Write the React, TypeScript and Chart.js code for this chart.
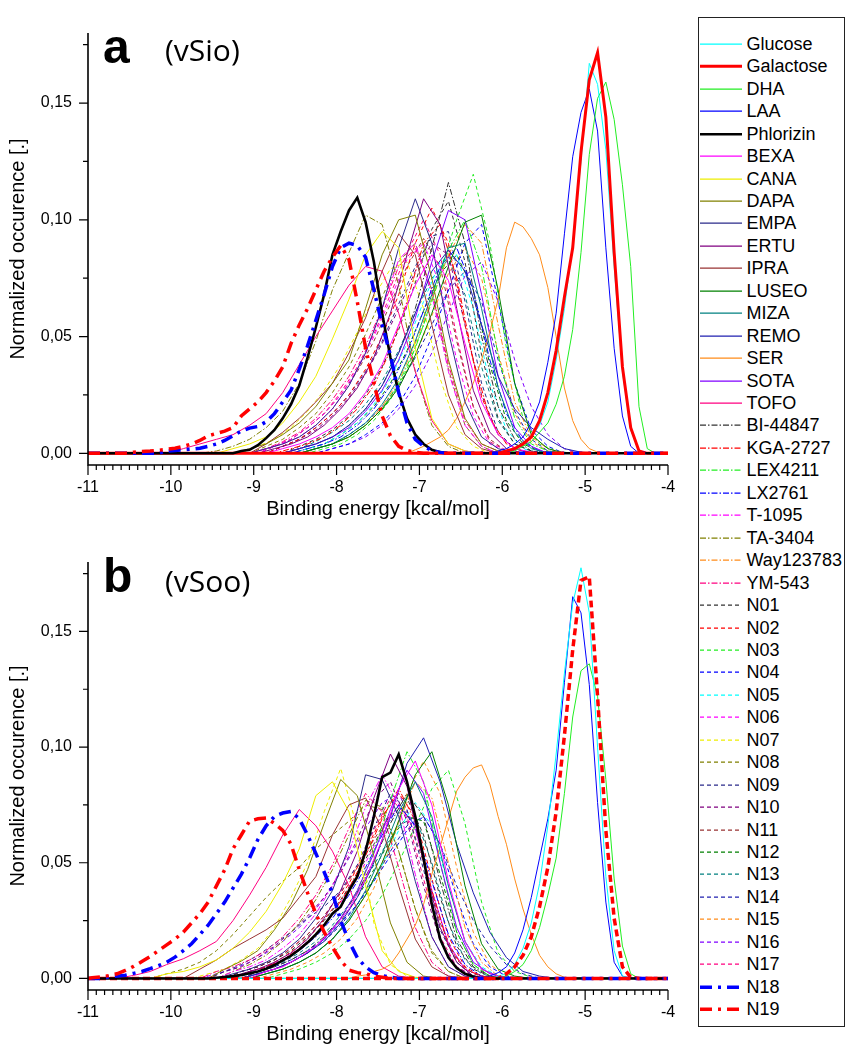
import React, { useEffect, useRef } from "react";
import { Chart, registerables } from "chart.js";

Chart.register(...registerables);

const FONT = "'Liberation Sans', Arial, Helvetica, sans-serif";

type Curve = { x0: number; dx: number; y: number[] };

// ---------- axis data ----------
const X_MIN = -11;
const X_MAX = -4;
const Y_MIN = -0.005;
const Y_MAX = 0.18;
const X_TICKS = [-11, -10, -9, -8, -7, -6, -5, -4];
const Y_TICKS = [0, 0.05, 0.1, 0.15];

// ---------- series names / colours ----------
const NAMES = [
  "Glucose", "Galactose", "DHA", "LAA", "Phlorizin", "BEXA", "CANA", "DAPA", "EMPA", "ERTU",
  "IPRA", "LUSEO", "MIZA", "REMO", "SER", "SOTA", "TOFO", "BI-44847", "KGA-2727", "LEX4211",
  "LX2761", "T-1095", "TA-3404", "Way123783", "YM-543", "N01", "N02", "N03", "N04", "N05",
  "N06", "N07", "N08", "N09", "N10", "N11", "N12", "N13", "N14", "N15", "N16", "N17", "N18", "N19",
];
const COLORS = [
  "#00FFFF", "#FF0000", "#22EE22", "#0000FF", "#000000", "#FF00FF", "#EEEE00", "#808000", "#2A2A8A", "#800080",
  "#993333", "#008000", "#008080", "#2020B0", "#FF8C1A", "#8000FF", "#FF0080", "#333333", "#FF0000", "#22EE22",
  "#0000FF", "#FF00FF", "#808000", "#FF8C1A", "#FF0080", "#333333", "#FF0000", "#22EE22", "#0000FF", "#00FFFF",
  "#FF00FF", "#EEEE00", "#808000", "#2A2A8A", "#800080", "#993333", "#008000", "#008080", "#2020B0", "#FF8C1A",
  "#8000FF", "#FF0080", "#0000FF", "#FF0000",
];
const STYLES = [
  "solid", "thick", "solid", "solid", "phl", "solid", "solid", "solid", "solid", "solid",
  "solid", "solid", "solid", "solid", "solid", "solid", "solid", "dd", "dd", "dd",
  "dd", "dd", "dd", "dd", "dd", "dash", "dash", "dash", "dash", "dash",
  "dash", "dash", "dash", "dash", "dash", "dash", "dash", "dash", "dash", "dash",
  "dash", "dash", "big", "big",
];
const STYLE_DEFS: Record<string, { w: number; dash: number[] }> = {
  solid: { w: 1, dash: [] },
  thick: { w: 3, dash: [] },
  phl: { w: 2.6, dash: [] },
  dd: { w: 1, dash: [6, 2, 1.5, 2] },
  dash: { w: 1, dash: [4, 3] },
  big: { w: 3.5, dash: [12, 6, 3, 6] },
  thickdash: { w: 3.5, dash: [7, 4] },
};

// ---------- panel a (vSio) ----------
const A_GLUCOSE: Curve = { x0: -5.85, dx: 0.1, y: [0.002, 0.004, 0.007, 0.012, 0.022, 0.04, 0.062, 0.09, 0.125, 0.167, 0.158, 0.13, 0.08, 0.035, 0.01, 0.001] };
const A_GALACTOSE: Curve = { x0: -5.95, dx: 0.1, y: [0.001, 0.002, 0.004, 0.007, 0.014, 0.026, 0.044, 0.067, 0.088, 0.129, 0.16, 0.1716, 0.144, 0.086, 0.037, 0.011, 0.001] };
const A_DHA: Curve = { x0: -5.85, dx: 0.1, y: [0.001, 0.003, 0.005, 0.009, 0.013, 0.021, 0.033, 0.053, 0.086, 0.128, 0.152, 0.159, 0.143, 0.115, 0.08, 0.02, 0.002] };
const A_LAA: Curve = { x0: -6.05, dx: 0.1, y: [0.001, 0.002, 0.004, 0.007, 0.013, 0.022, 0.039, 0.06, 0.094, 0.127, 0.146, 0.156, 0.138, 0.088, 0.045, 0.016, 0.003] };
const A_PHLORIZIN: Curve = { x0: -9.15, dx: 0.1, y: [0.001, 0.0015, 0.0035, 0.0065, 0.01, 0.015, 0.021, 0.029, 0.041, 0.054, 0.068, 0.085, 0.095, 0.104, 0.1095, 0.099, 0.082, 0.06, 0.041, 0.026, 0.015, 0.008, 0.004, 0.0015, 0.0005] };
const A_BEXA: Curve = { x0: -8.65, dx: 0.2, y: [0.002, 0.004, 0.007, 0.011, 0.017, 0.026, 0.038, 0.055, 0.072, 0.085, 0.074, 0.047, 0.022, 0.008, 0.002, 0.0005] };
const A_CANA: Curve = { x0: -9.25, dx: 0.2, y: [0.002, 0.004, 0.007, 0.013, 0.022, 0.033, 0.049, 0.066, 0.085, 0.095, 0.088, 0.045, 0.015, 0.004, 0.001] };
const A_DAPA: Curve = { x0: -9.05, dx: 0.2, y: [0.002, 0.004, 0.008, 0.013, 0.02, 0.03, 0.04, 0.062, 0.085, 0.1, 0.102, 0.075, 0.04, 0.015, 0.004, 0.001] };
const A_EMPA: Curve = { x0: -8.85, dx: 0.2, y: [0.002, 0.004, 0.007, 0.012, 0.019, 0.029, 0.043, 0.062, 0.088, 0.109, 0.09, 0.052, 0.022, 0.007, 0.002] };
const A_ERTU: Curve = { x0: -8.75, dx: 0.2, y: [0.002, 0.004, 0.007, 0.012, 0.019, 0.028, 0.041, 0.06, 0.085, 0.109, 0.098, 0.062, 0.027, 0.009, 0.002] };
const A_IPRA: Curve = { x0: -8.85, dx: 0.2, y: [0.004, 0.009, 0.015, 0.022, 0.03, 0.043, 0.058, 0.078, 0.094, 0.085, 0.055, 0.025, 0.008, 0.002] };
const A_LUSEO: Curve = { x0: -8.25, dx: 0.2, y: [0.002, 0.004, 0.007, 0.012, 0.019, 0.028, 0.042, 0.06, 0.08, 0.099, 0.102, 0.07, 0.03, 0.008, 0.002] };
const A_MIZA: Curve = { x0: -8.25, dx: 0.2, y: [0.002, 0.004, 0.008, 0.013, 0.021, 0.032, 0.048, 0.068, 0.088, 0.09, 0.062, 0.028, 0.009, 0.002] };
const A_REMO: Curve = { x0: -8.45, dx: 0.2, y: [0.002, 0.004, 0.007, 0.012, 0.019, 0.029, 0.043, 0.06, 0.078, 0.087, 0.078, 0.055, 0.033, 0.019, 0.011, 0.006, 0.002, 0.0005] };
const A_SER: Curve = { x0: -7.05, dx: 0.1, y: [0.0015, 0.003, 0.005, 0.007, 0.01, 0.015, 0.022, 0.03, 0.04, 0.052, 0.066, 0.088, 0.099, 0.097, 0.092, 0.085, 0.071, 0.05, 0.028, 0.014, 0.006, 0.002, 0.0005] };
const A_SOTA: Curve = { x0: -8.45, dx: 0.2, y: [0.002, 0.004, 0.007, 0.011, 0.018, 0.027, 0.04, 0.058, 0.082, 0.104, 0.1, 0.068, 0.033, 0.011, 0.003] };
const A_TOFO: Curve = { x0: -9.85, dx: 0.2, y: [0.002, 0.004, 0.006, 0.008, 0.012, 0.017, 0.026, 0.038, 0.05, 0.061, 0.072, 0.08, 0.078, 0.06, 0.035, 0.014, 0.004, 0.001] };
const A_BI44847: Curve = { x0: -8.45, dx: 0.2, y: [0.002, 0.004, 0.007, 0.012, 0.019, 0.029, 0.043, 0.062, 0.088, 0.116, 0.09, 0.05, 0.02, 0.006, 0.001] };
const A_KGA2727: Curve = { x0: -8.55, dx: 0.2, y: [0.002, 0.004, 0.007, 0.012, 0.019, 0.029, 0.044, 0.065, 0.09, 0.098, 0.075, 0.04, 0.015, 0.004, 0.001] };
const A_LEX4211: Curve = { x0: -8.25, dx: 0.2, y: [0.002, 0.004, 0.007, 0.012, 0.019, 0.03, 0.045, 0.065, 0.087, 0.1, 0.08, 0.042, 0.015, 0.004, 0.001] };
const A_LX2761: Curve = { x0: -8.35, dx: 0.2, y: [0.002, 0.004, 0.007, 0.012, 0.019, 0.029, 0.043, 0.061, 0.08, 0.088, 0.07, 0.04, 0.017, 0.005, 0.001] };
const A_T1095: Curve = { x0: -8.85, dx: 0.2, y: [0.002, 0.004, 0.007, 0.012, 0.019, 0.029, 0.043, 0.062, 0.083, 0.09, 0.068, 0.035, 0.012, 0.003] };
const A_TA3404: Curve = { x0: -9.45, dx: 0.2, y: [0.001, 0.003, 0.006, 0.011, 0.018, 0.03, 0.048, 0.07, 0.086, 0.102, 0.098, 0.072, 0.035, 0.012, 0.003] };
const A_WAY123783: Curve = { x0: -8.25, dx: 0.2, y: [0.002, 0.004, 0.007, 0.012, 0.02, 0.031, 0.047, 0.066, 0.085, 0.098, 0.09, 0.055, 0.022, 0.007, 0.002] };
const A_YM543: Curve = { x0: -8.85, dx: 0.2, y: [0.002, 0.005, 0.009, 0.015, 0.023, 0.033, 0.046, 0.062, 0.08, 0.088, 0.07, 0.038, 0.014, 0.004, 0.001] };
const A_N01: Curve = { x0: -8.45, dx: 0.2, y: [0.003, 0.006, 0.01, 0.016, 0.025, 0.037, 0.053, 0.073, 0.096, 0.108, 0.082, 0.042, 0.015, 0.004, 0.001] };
const A_N02: Curve = { x0: -8.65, dx: 0.2, y: [0.003, 0.006, 0.011, 0.017, 0.025, 0.036, 0.05, 0.068, 0.09, 0.105, 0.09, 0.055, 0.024, 0.008, 0.002] };
const A_N03: Curve = { x0: -8.15, dx: 0.2, y: [0.002, 0.004, 0.008, 0.014, 0.023, 0.036, 0.055, 0.078, 0.1, 0.1195, 0.09, 0.045, 0.015, 0.004, 0.001] };
const A_N04: Curve = { x0: -8.05, dx: 0.2, y: [0.002, 0.004, 0.008, 0.013, 0.021, 0.033, 0.05, 0.07, 0.09, 0.098, 0.065, 0.03, 0.01, 0.003] };
const A_N05: Curve = { x0: -8.35, dx: 0.2, y: [0.002, 0.004, 0.008, 0.013, 0.021, 0.032, 0.047, 0.065, 0.082, 0.085, 0.062, 0.03, 0.01, 0.002] };
const A_N06: Curve = { x0: -8.75, dx: 0.2, y: [0.003, 0.006, 0.011, 0.017, 0.025, 0.036, 0.05, 0.066, 0.083, 0.09, 0.072, 0.04, 0.016, 0.004, 0.001] };
const A_N07: Curve = { x0: -8.95, dx: 0.2, y: [0.003, 0.006, 0.011, 0.018, 0.027, 0.038, 0.052, 0.067, 0.079, 0.082, 0.062, 0.032, 0.011, 0.003] };
const A_N08: Curve = { x0: -8.85, dx: 0.2, y: [0.003, 0.006, 0.011, 0.017, 0.026, 0.037, 0.051, 0.067, 0.082, 0.09, 0.07, 0.036, 0.012, 0.003] };
const A_N09: Curve = { x0: -8.65, dx: 0.2, y: [0.003, 0.006, 0.011, 0.017, 0.025, 0.035, 0.048, 0.064, 0.08, 0.093, 0.095, 0.065, 0.03, 0.009, 0.002] };
const A_N10: Curve = { x0: -8.65, dx: 0.2, y: [0.003, 0.006, 0.01, 0.016, 0.024, 0.034, 0.047, 0.062, 0.078, 0.09, 0.085, 0.055, 0.025, 0.008, 0.002] };
const A_N11: Curve = { x0: -8.75, dx: 0.2, y: [0.003, 0.006, 0.011, 0.017, 0.025, 0.035, 0.048, 0.064, 0.08, 0.092, 0.08, 0.048, 0.02, 0.006, 0.001] };
const A_N12: Curve = { x0: -8.35, dx: 0.2, y: [0.002, 0.004, 0.008, 0.013, 0.02, 0.03, 0.044, 0.061, 0.077, 0.085, 0.07, 0.038, 0.014, 0.004, 0.001] };
const A_N13: Curve = { x0: -8.45, dx: 0.2, y: [0.002, 0.005, 0.009, 0.014, 0.021, 0.031, 0.044, 0.06, 0.075, 0.083, 0.068, 0.037, 0.014, 0.004, 0.001] };
const A_N14: Curve = { x0: -8.25, dx: 0.2, y: [0.002, 0.004, 0.008, 0.013, 0.02, 0.029, 0.041, 0.055, 0.07, 0.078, 0.065, 0.04, 0.018, 0.006, 0.001] };
const A_N15: Curve = { x0: -8.25, dx: 0.2, y: [0.002, 0.004, 0.007, 0.012, 0.019, 0.029, 0.042, 0.059, 0.077, 0.088, 0.075, 0.043, 0.017, 0.005, 0.001] };
const A_N16: Curve = { x0: -8.05, dx: 0.2, y: [0.002, 0.004, 0.007, 0.012, 0.019, 0.029, 0.043, 0.06, 0.076, 0.082, 0.065, 0.04, 0.02, 0.008, 0.002] };
const A_N17: Curve = { x0: -8.75, dx: 0.2, y: [0.003, 0.006, 0.011, 0.017, 0.026, 0.037, 0.051, 0.068, 0.086, 0.1, 0.085, 0.05, 0.02, 0.005, 0.001] };
const A_N18: Curve = { x0: -10.05, dx: 0.1, y: [0.001, 0.0012, 0.0015, 0.0018, 0.0022, 0.003, 0.004, 0.0055, 0.0075, 0.0095, 0.0108, 0.0115, 0.0135, 0.017, 0.022, 0.027, 0.036, 0.046, 0.057, 0.068, 0.08, 0.088, 0.09, 0.089, 0.084, 0.07, 0.055, 0.042, 0.026, 0.013, 0.006, 0.003, 0.0012, 0.0004] };
const A_N19: Curve = { x0: -10.45, dx: 0.1, y: [0.0005, 0.0008, 0.001, 0.0013, 0.0017, 0.0022, 0.003, 0.004, 0.0055, 0.0075, 0.0085, 0.0095, 0.011, 0.016, 0.019, 0.022, 0.026, 0.031, 0.037, 0.047, 0.055, 0.062, 0.07, 0.078, 0.084, 0.089, 0.083, 0.065, 0.045, 0.03, 0.016, 0.0075, 0.003, 0.0012, 0.0004] };

// ---------- panel b (vSoo) ----------
const B_GLUCOSE: Curve = { x0: -6.05, dx: 0.1, y: [0.001, 0.002, 0.006, 0.013, 0.024, 0.041, 0.066, 0.097, 0.132, 0.162, 0.1775, 0.158, 0.1, 0.044, 0.012, 0.001] };
const B_GALACTOSE: Curve = { x0: -5.95, dx: 0.1, y: [0.002, 0.005, 0.01, 0.018, 0.031, 0.048, 0.072, 0.105, 0.142, 0.172, 0.1736, 0.122, 0.064, 0.026, 0.005, 0.0005] };
const B_DHA: Curve = { x0: -5.95, dx: 0.1, y: [0.001, 0.003, 0.006, 0.012, 0.022, 0.036, 0.052, 0.08, 0.113, 0.133, 0.136, 0.122, 0.086, 0.043, 0.014, 0.002] };
const B_LAA: Curve = { x0: -6.15, dx: 0.1, y: [0.001, 0.0025, 0.005, 0.011, 0.021, 0.035, 0.052, 0.069, 0.09, 0.128, 0.165, 0.158, 0.127, 0.076, 0.033, 0.007, 0.001] };
const B_PHLORIZIN: Curve = { x0: -9.45, dx: 0.1, y: [0.0003, 0.0006, 0.001, 0.0015, 0.0022, 0.003, 0.0042, 0.0058, 0.0078, 0.0098, 0.0125, 0.0155, 0.019, 0.023, 0.028, 0.031, 0.038, 0.044, 0.055, 0.07, 0.087, 0.089, 0.0968, 0.085, 0.07, 0.052, 0.032, 0.017, 0.009, 0.0045, 0.002, 0.0008] };
const B_BEXA: Curve = { x0: -8.85, dx: 0.2, y: [0.003, 0.005, 0.009, 0.014, 0.021, 0.03, 0.043, 0.06, 0.082, 0.094, 0.075, 0.042, 0.016, 0.004, 0.001] };
const B_CANA: Curve = { x0: -10.05, dx: 0.2, y: [0.002, 0.003, 0.005, 0.008, 0.013, 0.02, 0.029, 0.041, 0.056, 0.079, 0.085, 0.072, 0.04, 0.012, 0.003, 0.0005] };
const B_DAPA: Curve = { x0: -9.35, dx: 0.2, y: [0.004, 0.0075, 0.012, 0.021, 0.032, 0.047, 0.067, 0.086, 0.079, 0.053, 0.024, 0.007, 0.001] };
const B_EMPA: Curve = { x0: -9.25, dx: 0.2, y: [0.002, 0.004, 0.007, 0.011, 0.017, 0.026, 0.038, 0.057, 0.088, 0.086, 0.07, 0.042, 0.018, 0.005, 0.001] };
const B_ERTU: Curve = { x0: -9.15, dx: 0.2, y: [0.002, 0.004, 0.007, 0.011, 0.017, 0.026, 0.038, 0.055, 0.078, 0.097, 0.083, 0.05, 0.022, 0.007, 0.001] };
const B_IPRA: Curve = { x0: -9.65, dx: 0.2, y: [0.004, 0.008, 0.013, 0.017, 0.021, 0.026, 0.035, 0.044, 0.062, 0.075, 0.078, 0.065, 0.04, 0.017, 0.005, 0.001] };
const B_LUSEO: Curve = { x0: -8.85, dx: 0.2, y: [0.002, 0.004, 0.007, 0.011, 0.017, 0.025, 0.036, 0.05, 0.068, 0.088, 0.098, 0.075, 0.04, 0.015, 0.004, 0.001] };
const B_MIZA: Curve = { x0: -8.85, dx: 0.2, y: [0.002, 0.004, 0.007, 0.011, 0.017, 0.026, 0.038, 0.054, 0.072, 0.085, 0.07, 0.04, 0.016, 0.004, 0.001] };
const B_REMO: Curve = { x0: -8.95, dx: 0.2, y: [0.002, 0.004, 0.007, 0.011, 0.016, 0.024, 0.035, 0.05, 0.07, 0.093, 0.104, 0.085, 0.058, 0.037, 0.02, 0.009, 0.003, 0.001] };
const B_SER: Curve = { x0: -7.75, dx: 0.1, y: [0.001, 0.0015, 0.003, 0.004, 0.006, 0.011, 0.017, 0.023, 0.032, 0.045, 0.057, 0.069, 0.081, 0.087, 0.091, 0.0923, 0.084, 0.07, 0.058, 0.043, 0.03, 0.019, 0.01, 0.005, 0.002, 0.0005] };
const B_SOTA: Curve = { x0: -8.95, dx: 0.2, y: [0.002, 0.004, 0.007, 0.011, 0.017, 0.026, 0.038, 0.054, 0.073, 0.09, 0.08, 0.05, 0.022, 0.007, 0.002] };
const B_TOFO: Curve = { x0: -10.45, dx: 0.2, y: [0.0013, 0.003, 0.006, 0.0085, 0.012, 0.016, 0.025, 0.036, 0.048, 0.062, 0.073, 0.066, 0.055, 0.04, 0.018, 0.005, 0.001] };
const B_BI44847: Curve = { x0: -8.95, dx: 0.2, y: [0.003, 0.005, 0.008, 0.012, 0.018, 0.026, 0.037, 0.051, 0.067, 0.08, 0.07, 0.042, 0.017, 0.005, 0.001] };
const B_KGA2727: Curve = { x0: -9.05, dx: 0.2, y: [0.003, 0.005, 0.008, 0.013, 0.019, 0.028, 0.039, 0.053, 0.069, 0.082, 0.068, 0.038, 0.014, 0.004, 0.001] };
const B_LEX4211: Curve = { x0: -8.95, dx: 0.2, y: [0.002, 0.004, 0.007, 0.011, 0.017, 0.026, 0.038, 0.055, 0.077, 0.098, 0.085, 0.05, 0.02, 0.006, 0.001] };
const B_LX2761: Curve = { x0: -9.05, dx: 0.2, y: [0.003, 0.005, 0.008, 0.012, 0.018, 0.026, 0.036, 0.048, 0.062, 0.075, 0.066, 0.042, 0.019, 0.006, 0.001] };
const B_T1095: Curve = { x0: -9.25, dx: 0.2, y: [0.003, 0.005, 0.008, 0.013, 0.019, 0.028, 0.04, 0.055, 0.074, 0.088, 0.075, 0.045, 0.018, 0.005, 0.001] };
const B_TA3404: Curve = { x0: -9.25, dx: 0.2, y: [0.003, 0.006, 0.01, 0.016, 0.024, 0.034, 0.047, 0.062, 0.077, 0.074, 0.055, 0.03, 0.012, 0.003] };
const B_WAY123783: Curve = { x0: -8.85, dx: 0.2, y: [0.002, 0.004, 0.007, 0.011, 0.017, 0.025, 0.036, 0.05, 0.067, 0.085, 0.078, 0.05, 0.022, 0.007, 0.001] };
const B_YM543: Curve = { x0: -9.45, dx: 0.2, y: [0.003, 0.005, 0.008, 0.012, 0.018, 0.026, 0.036, 0.049, 0.065, 0.08, 0.072, 0.048, 0.022, 0.007, 0.001] };
const B_N01: Curve = { x0: -9.15, dx: 0.2, y: [0.003, 0.005, 0.008, 0.012, 0.018, 0.025, 0.034, 0.045, 0.058, 0.071, 0.078, 0.062, 0.035, 0.014, 0.004, 0.001] };
const B_N02: Curve = { x0: -9.05, dx: 0.2, y: [0.003, 0.005, 0.009, 0.014, 0.021, 0.03, 0.041, 0.055, 0.07, 0.08, 0.07, 0.043, 0.018, 0.005, 0.001] };
const B_N03: Curve = { x0: -8.65, dx: 0.2, y: [0.002, 0.004, 0.007, 0.011, 0.017, 0.025, 0.036, 0.05, 0.066, 0.082, 0.09, 0.067, 0.033, 0.011, 0.003, 0.0005] };
const B_N04: Curve = { x0: -8.95, dx: 0.2, y: [0.003, 0.005, 0.008, 0.012, 0.017, 0.024, 0.032, 0.042, 0.053, 0.064, 0.07, 0.058, 0.035, 0.015, 0.005, 0.001] };
const B_N05: Curve = { x0: -8.85, dx: 0.2, y: [0.002, 0.004, 0.007, 0.011, 0.017, 0.025, 0.036, 0.049, 0.064, 0.076, 0.066, 0.04, 0.016, 0.005, 0.001] };
const B_N06: Curve = { x0: -9.05, dx: 0.2, y: [0.003, 0.005, 0.008, 0.013, 0.019, 0.028, 0.038, 0.05, 0.064, 0.075, 0.064, 0.038, 0.015, 0.004, 0.001] };
const B_N07: Curve = { x0: -9.55, dx: 0.2, y: [0.002, 0.004, 0.008, 0.013, 0.022, 0.035, 0.05, 0.072, 0.0908, 0.065, 0.024, 0.006, 0.001] };
const B_N08: Curve = { x0: -10.05, dx: 0.2, y: [0.002, 0.004, 0.007, 0.012, 0.019, 0.027, 0.035, 0.042, 0.048, 0.056, 0.062, 0.068, 0.075, 0.073, 0.055, 0.03, 0.011, 0.003] };
const B_N09: Curve = { x0: -9.35, dx: 0.2, y: [0.003, 0.006, 0.01, 0.015, 0.02, 0.026, 0.031, 0.038, 0.049, 0.065, 0.08, 0.073, 0.047, 0.021, 0.007, 0.001] };
const B_N10: Curve = { x0: -9.35, dx: 0.2, y: [0.003, 0.005, 0.009, 0.014, 0.02, 0.027, 0.035, 0.046, 0.06, 0.077, 0.085, 0.068, 0.04, 0.016, 0.005, 0.001] };
const B_N11: Curve = { x0: -9.15, dx: 0.2, y: [0.003, 0.005, 0.008, 0.013, 0.019, 0.027, 0.037, 0.048, 0.06, 0.071, 0.072, 0.05, 0.024, 0.008, 0.002] };
const B_N12: Curve = { x0: -8.95, dx: 0.2, y: [0.002, 0.004, 0.007, 0.011, 0.017, 0.025, 0.035, 0.047, 0.06, 0.07, 0.068, 0.045, 0.02, 0.006, 0.001] };
const B_N13: Curve = { x0: -9.05, dx: 0.2, y: [0.002, 0.004, 0.007, 0.011, 0.016, 0.023, 0.032, 0.043, 0.055, 0.066, 0.07, 0.05, 0.024, 0.008, 0.002] };
const B_N14: Curve = { x0: -8.95, dx: 0.2, y: [0.002, 0.004, 0.007, 0.011, 0.016, 0.023, 0.032, 0.043, 0.055, 0.066, 0.07, 0.058, 0.04, 0.025, 0.014, 0.006, 0.002] };
const B_N15: Curve = { x0: -8.75, dx: 0.2, y: [0.002, 0.004, 0.007, 0.011, 0.017, 0.026, 0.039, 0.057, 0.08, 0.094, 0.08, 0.048, 0.02, 0.006, 0.001] };
const B_N16: Curve = { x0: -9.45, dx: 0.2, y: [0.002, 0.004, 0.007, 0.011, 0.016, 0.022, 0.03, 0.04, 0.052, 0.065, 0.076, 0.08, 0.065, 0.038, 0.015, 0.004, 0.001] };
const B_N17: Curve = { x0: -9.15, dx: 0.2, y: [0.003, 0.005, 0.008, 0.013, 0.019, 0.027, 0.037, 0.049, 0.064, 0.078, 0.07, 0.043, 0.018, 0.005, 0.001] };
const B_N18: Curve = { x0: -10.75, dx: 0.1, y: [0.0006, 0.001, 0.0014, 0.0022, 0.003, 0.0042, 0.0055, 0.007, 0.0092, 0.012, 0.015, 0.019, 0.023, 0.028, 0.033, 0.039, 0.045, 0.052, 0.06, 0.066, 0.07, 0.0715, 0.0722, 0.069, 0.062, 0.054, 0.046, 0.037, 0.025, 0.016, 0.009, 0.005, 0.0025, 0.0012, 0.0005] };
const B_N19: Curve = { x0: -10.95, dx: 0.1, y: [0.0003, 0.0006, 0.0012, 0.002, 0.0035, 0.0052, 0.0073, 0.0095, 0.012, 0.0145, 0.017, 0.02, 0.024, 0.028, 0.033, 0.04, 0.047, 0.056, 0.062, 0.068, 0.069, 0.0693, 0.067, 0.064, 0.058, 0.047, 0.037, 0.028, 0.02, 0.0135, 0.0077, 0.0036, 0.0025, 0.002, 0.001, 0.0005] };

const PANEL_A: Curve[] = [
  A_GLUCOSE, A_GALACTOSE, A_DHA, A_LAA, A_PHLORIZIN, A_BEXA, A_CANA, A_DAPA, A_EMPA, A_ERTU,
  A_IPRA, A_LUSEO, A_MIZA, A_REMO, A_SER, A_SOTA, A_TOFO, A_BI44847, A_KGA2727, A_LEX4211,
  A_LX2761, A_T1095, A_TA3404, A_WAY123783, A_YM543, A_N01, A_N02, A_N03, A_N04, A_N05,
  A_N06, A_N07, A_N08, A_N09, A_N10, A_N11, A_N12, A_N13, A_N14, A_N15, A_N16, A_N17, A_N18, A_N19,
];
const PANEL_B: Curve[] = [
  B_GLUCOSE, B_GALACTOSE, B_DHA, B_LAA, B_PHLORIZIN, B_BEXA, B_CANA, B_DAPA, B_EMPA, B_ERTU,
  B_IPRA, B_LUSEO, B_MIZA, B_REMO, B_SER, B_SOTA, B_TOFO, B_BI44847, B_KGA2727, B_LEX4211,
  B_LX2761, B_T1095, B_TA3404, B_WAY123783, B_YM543, B_N01, B_N02, B_N03, B_N04, B_N05,
  B_N06, B_N07, B_N08, B_N09, B_N10, B_N11, B_N12, B_N13, B_N14, B_N15, B_N16, B_N17, B_N18, B_N19,
];
const STYLES_B = STYLES.map((s, i) => (i === 1 ? "thickdash" : s));

function drawOrder(i: number) {
  if (i === 43) return 0;
  if (i === 42) return 1;
  if (i === 4) return 2;
  if (i === 1) return 3;
  return 10;
}

function toPoints(c: Curve) {
  const pts: { x: number; y: number }[] = [{ x: X_MIN, y: 0 }];
  const first = c.x0 - c.dx;
  if (first > X_MIN) pts.push({ x: +first.toFixed(3), y: 0 });
  c.y.forEach((v, i) => pts.push({ x: +(c.x0 + i * c.dx).toFixed(3), y: v }));
  const last = c.x0 + c.y.length * c.dx;
  if (last < X_MAX) pts.push({ x: +last.toFixed(3), y: 0 });
  pts.push({ x: X_MAX, y: 0 });
  return pts;
}

const axesPlugin = {
  id: "originAxes",
  afterDraw(chart: any) {
    const { ctx, chartArea, scales } = chart;
    const { left, right, top, bottom } = chartArea;
    const x = scales.x;
    const y = scales.y;
    ctx.save();
    ctx.strokeStyle = "#000";
    ctx.lineWidth = 1.6;
    ctx.beginPath();
    ctx.moveTo(left, top);
    ctx.lineTo(left, bottom);
    ctx.lineTo(right, bottom);
    ctx.stroke();
    ctx.lineWidth = 1.2;
    ctx.beginPath();
    const nx = Math.round((X_MAX - X_MIN) * 10);
    for (let i = 0; i <= nx; i++) {
      const px = x.getPixelForValue(X_MIN + i / 10);
      const len = i % 10 === 0 ? 10 : 5;
      ctx.moveTo(px, bottom);
      ctx.lineTo(px, bottom + len);
    }
    for (let i = 0; i * 0.025 <= Y_MAX; i++) {
      const py = y.getPixelForValue(i * 0.025);
      const len = i % 2 === 0 ? 9 : 5;
      ctx.moveTo(left, py);
      ctx.lineTo(left - len, py);
    }
    ctx.stroke();
    ctx.restore();
  },
};

function Panel(props: { curves: Curve[]; styles: string[]; top: number; height: number; padTop: number }) {
  const ref = useRef<HTMLCanvasElement | null>(null);
  useEffect(() => {
    if (!ref.current) return;
    const datasets = props.curves.map((c, i) => {
      const st = STYLE_DEFS[props.styles[i]];
      return {
        label: NAMES[i],
        data: toPoints(c),
        borderColor: COLORS[i],
        backgroundColor: COLORS[i],
        borderWidth: st.w,
        borderDash: st.dash,
        pointRadius: 0,
        fill: false,
        tension: 0,
        order: drawOrder(i),
      };
    });
    const chart = new Chart(ref.current, {
      type: "line",
      data: { datasets } as any,
      plugins: [axesPlugin],
      options: {
        animation: false,
        responsive: false,
        maintainAspectRatio: false,
        events: [],
        layout: { padding: { top: props.padTop, right: 30, left: 0, bottom: 0 } },
        plugins: { legend: { display: false }, tooltip: { enabled: false } },
        scales: {
          x: {
            type: "linear",
            min: X_MIN,
            max: X_MAX,
            grid: { display: false, drawTicks: false },
            border: { display: false },
            afterBuildTicks: (s: any) => {
              s.ticks = X_TICKS.map((v) => ({ value: v }));
            },
            afterFit: (s: any) => {
              s.height = 57;
            },
            ticks: {
              color: "#000",
              font: { family: FONT, size: 16 },
              padding: 13,
              maxRotation: 0,
              autoSkip: false,
              callback: (v: any) => String(v),
            },
            title: {
              display: true,
              text: "Binding energy [kcal/mol]",
              color: "#000",
              font: { family: FONT, size: 20 },
              padding: { top: 0, bottom: 1 },
            },
          },
          y: {
            type: "linear",
            min: Y_MIN,
            max: Y_MAX,
            grid: { display: false, drawTicks: false },
            border: { display: false },
            afterBuildTicks: (s: any) => {
              s.ticks = Y_TICKS.map((v) => ({ value: v }));
            },
            afterFit: (s: any) => {
              s.width = 88;
            },
            ticks: {
              color: "#000",
              font: { family: FONT, size: 16 },
              padding: 16,
              callback: (v: any) => Number(v).toFixed(2).replace(".", ","),
            },
            title: {
              display: true,
              text: "Normalized occurence [.]",
              color: "#000",
              font: { family: FONT, size: 20 },
              padding: { top: 6, bottom: 0 },
            },
          },
        },
      } as any,
    });
    return () => chart.destroy();
  }, []);
  return (
    <canvas
      ref={ref}
      width={698}
      height={props.height}
      style={{ position: "absolute", left: 0, top: props.top, width: 698, height: props.height }}
    />
  );
}

function Legend() {
  const boxTop = 17;
  return (
    <div
      style={{
        position: "absolute",
        left: 698,
        top: boxTop,
        width: 147,
        height: 1010,
        border: "1px solid #222",
        boxSizing: "border-box",
        background: "#fff",
      }}
    >
      {NAMES.map((n, i) => {
        const yc = 44 + i * 22.45 - boxTop - 1;
        const st = STYLE_DEFS[STYLES[i]];
        return (
          <div
            key={n}
            style={{
              position: "absolute",
              left: 0,
              top: yc - 11.2,
              width: 145,
              height: 22,
              font: `18px ${FONT}`,
              lineHeight: "22px",
              whiteSpace: "nowrap",
              color: "#000",
            }}
          >
            <svg width={44} height={22} style={{ position: "absolute", left: 1, top: 0 }}>
              <line
                x1={0}
                y1={11.2}
                x2={42}
                y2={11.2}
                stroke={COLORS[i]}
                strokeWidth={st.w === 1 ? 1.3 : st.w}
                strokeDasharray={st.dash.length ? st.dash.join(" ") : undefined}
              />
            </svg>
            <span style={{ position: "absolute", left: 47.5, top: 0 }}>{n}</span>
          </div>
        );
      })}
    </div>
  );
}

export default function App() {
  return (
    <div style={{ position: "absolute", left: 0, top: 0, width: 845, height: 1048, background: "#fff", overflow: "hidden" }}>
      <Panel curves={PANEL_A} styles={STYLES} top={0} height={522} padTop={33} />
      <Panel curves={PANEL_B} styles={STYLES_B} top={527} height={520} padTop={35} />
      <div style={{ position: "absolute", left: 103, top: 23, font: `bold 48px ${FONT}`, lineHeight: "48px", color: "#000" }}>a</div>
      <div style={{ position: "absolute", left: 165, top: 35, font: "30px 'Open Sans', sans-serif", lineHeight: "30px", color: "#000" }}>(vSio)</div>
      <div style={{ position: "absolute", left: 103, top: 552, font: `bold 48px ${FONT}`, lineHeight: "48px", color: "#000" }}>b</div>
      <div style={{ position: "absolute", left: 165, top: 566, font: "30px 'Open Sans', sans-serif", lineHeight: "30px", color: "#000" }}>(vSoo)</div>
      <Legend />
    </div>
  );
}
